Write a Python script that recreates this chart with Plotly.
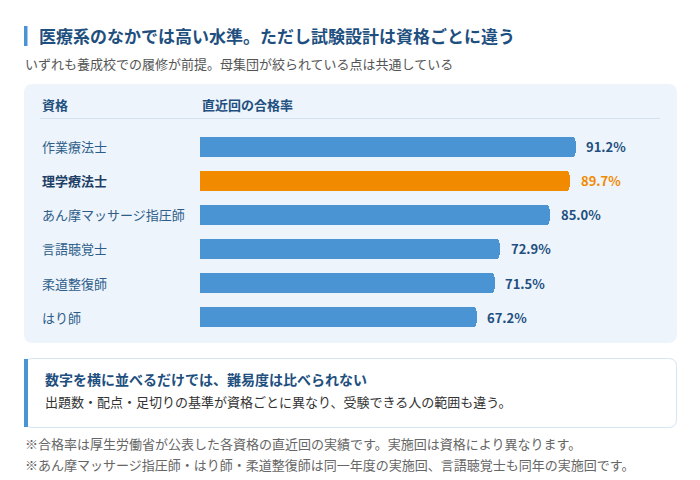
import plotly.graph_objects as go

# data
qualifications = ["作業療法士", "理学療法士", "あん摩マッサージ指圧師", "言語聴覚士", "柔道整復師", "はり師"]
pass_rates = [91.2, 89.7, 85.0, 72.9, 71.5, 67.2]
highlight = "理学療法士"

title = "医療系のなかでは高い水準。ただし試験設計は資格ごとに違う"
subtitle = "いずれも養成校での履修が前提。母集団が絞られている点は共通している"
col_headers = ["資格", "直近回の合格率"]
note_head = "数字を横に並べるだけでは、難易度は比べられない"
note_body = "出題数・配点・足切りの基準が資格ごとに異なり、受験できる人の範囲も違う。"
footnotes = [
    "※合格率は厚生労働省が公表した各資格の直近回の実績です。実施回は資格により異なります。",
    "※あん摩マッサージ指圧師・はり師・柔道整復師は同一年度の実施回、言語聴覚士も同年の実施回です。",
]

W, H = 700, 480
FONT = "Noto Sans CJK JP"
BLUE = "#4a94d3"
ORANGE = "#f28a00"
NAVY = "#1e4f7e"
LABEL = "#2d5d8a"


def px(x):
    return x / W


def py(y):
    return 1 - y / H


def rounded_rect(x0, y0, x1, y1, r):
    # path in paper coords, radius in pixels
    rx, ry = r / W, r / H
    X0, X1 = px(x0), px(x1)
    Y0, Y1 = py(y0), py(y1)  # Y0 top, Y1 bottom
    return (f"M{X0 + rx},{Y0} L{X1 - rx},{Y0} Q{X1},{Y0} {X1},{Y0 - ry} "
            f"L{X1},{Y1 + ry} Q{X1},{Y1} {X1 - rx},{Y1} L{X0 + rx},{Y1} "
            f"Q{X0},{Y1} {X0},{Y1 + ry} L{X0},{Y0 - ry} Q{X0},{Y0} {X0 + rx},{Y0} Z")


colors = [ORANGE if q == highlight else BLUE for q in qualifications]

fig = go.Figure(
    go.Bar(
        x=pass_rates,
        y=qualifications,
        orientation="h",
        marker=dict(color=colors, cornerradius=4, line=dict(width=0)),
        width=0.59,
        hoverinfo="skip",
    )
)

shapes = [
    # title accent
    dict(type="rect", xref="paper", yref="paper", x0=px(24), x1=px(27.5), y0=py(26), y1=py(46),
         fillcolor=BLUE, line=dict(width=0), layer="below"),
    # chart panel
    dict(type="path", xref="paper", yref="paper", path=rounded_rect(24, 84, 677, 343, 9),
         fillcolor="#edf4fb", line=dict(width=0), layer="below"),
    # header divider
    dict(type="line", xref="paper", yref="paper", x0=px(40), x1=px(660), y0=py(118.5), y1=py(118.5),
         line=dict(color="#d3e2ef", width=1), layer="below"),
    # note box
    dict(type="path", xref="paper", yref="paper", path=rounded_rect(24.5, 358.5, 676.5, 427.5, 8),
         fillcolor="white", line=dict(color="#d4e5f4", width=1), layer="below"),
    dict(type="rect", xref="paper", yref="paper", x0=px(24), x1=px(28), y0=py(359), y1=py(427),
         fillcolor=BLUE, line=dict(width=0), layer="below"),
]

annotations = [
    dict(text=f"<b>{title}</b>", x=px(37), y=py(36), font=dict(size=17, color=NAVY)),
    dict(text=subtitle, x=px(23), y=py(64), font=dict(size=13, color="#555555")),
    dict(text=f"<b>{col_headers[0]}</b>", x=px(40), y=py(104), font=dict(size=13, color=NAVY)),
    dict(text=f"<b>{col_headers[1]}</b>", x=px(200), y=py(104), font=dict(size=13, color=NAVY)),
    dict(text=f"<b>{note_head}</b>", x=px(43), y=py(379), font=dict(size=14, color=NAVY)),
    dict(text=note_body, x=px(43), y=py(401), font=dict(size=13, color="#333333")),
]
for i, fn in enumerate(footnotes):
    annotations.append(dict(text=fn, x=px(23), y=py(443 + 21 * i), font=dict(size=13, color="#666666")))

for a in annotations:
    a.update(xref="paper", yref="paper", xanchor="left", yanchor="middle", showarrow=False)

# category labels and value labels
for q, v in zip(qualifications, pass_rates):
    hl = q == highlight
    annotations.append(dict(
        text=f"<b>{q}</b>" if hl else q, xref="paper", yref="y", x=px(40), y=q,
        xanchor="left", yanchor="middle", showarrow=False,
        font=dict(size=13, color="#1d3f66" if hl else LABEL),
    ))
    annotations.append(dict(
        text=f"<b>{v:.1f}%</b>", xref="x", yref="y", x=v, y=q, xshift=9 if not hl else 10,
        xanchor="left", yanchor="middle", showarrow=False,
        font=dict(size=13, color=ORANGE if hl else NAVY),
    ))

fig.update_layout(
    width=W,
    height=H,
    margin=dict(l=0, r=0, t=0, b=0),
    paper_bgcolor="white",
    plot_bgcolor="rgba(0,0,0,0)",
    font=dict(family=FONT),
    showlegend=False,
    xaxis=dict(domain=[px(199.5), px(611.5)], range=[0, 100], visible=False, fixedrange=True),
    yaxis=dict(domain=[py(334), py(130)], range=[5.5, -0.5], visible=False, fixedrange=True,
               categoryorder="array", categoryarray=qualifications),
    shapes=shapes,
    annotations=annotations,
    bargap=0,
)

fig.write_html("out.html", config={"displayModeBar": False},
               post_script="document.body.style.margin='0';")
